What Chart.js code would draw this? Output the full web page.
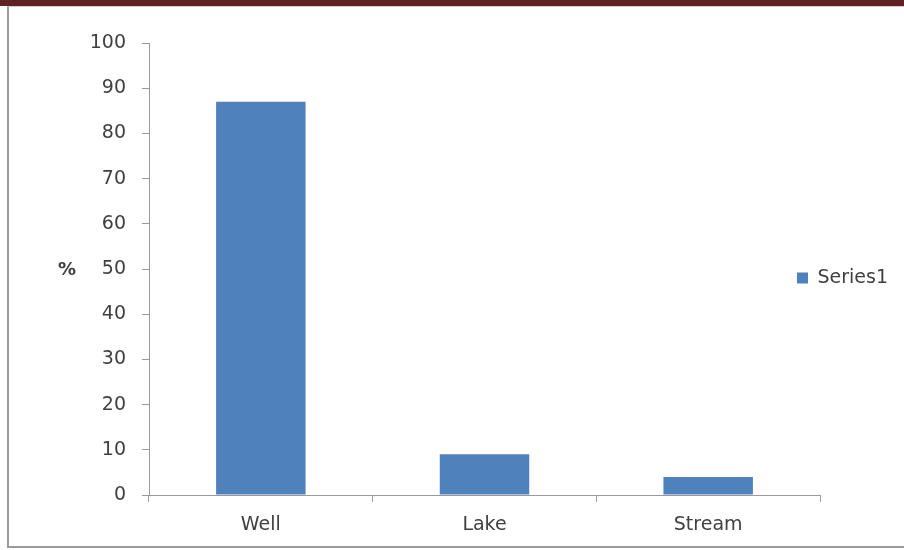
<!DOCTYPE html>
<html>
<head>
<meta charset="utf-8">
<script src="https://cdn.jsdelivr.net/npm/chart.js@4/dist/chart.umd.min.js"></script>
<style>
  html, body { margin: 0; padding: 0; background: #fff; }
  body { width: 904px; height: 550px; position: relative; overflow: hidden; }
  #band { position: absolute; left: 0; top: 0; width: 904px; height: 6px; background: #5f2123; }
  #frame { position: absolute; left: 7px; top: 6px; width: 930px; height: 539px;
           border-left: 2px solid #9a9a9a; border-top: 1px solid #cfcfcf; border-bottom: 2px solid #9a9a9a; }
  #wrap { position: absolute; left: 0; top: 0; width: 904px; height: 550px; }
</style>
</head>
<body>
<div id="band"></div>
<div id="frame"></div>
<div id="wrap"><canvas id="c" width="904" height="550"></canvas></div>
<script>
// Water source shares, in percent
const categories = ['Well', 'Lake', 'Stream'];
const series1 = [87, 9, 4];
const yTickValues = [0, 10, 20, 30, 40, 50, 60, 70, 80, 90, 100];
const seriesName = 'Series1';
const axisUnit = '%';

const textColor = '#404040';
const axisColor = '#9a9a9a';
const barColor = '#4f81bd';
const labelFont = { family: 'DejaVu Sans', size: 19 };

// Legend sits just inside the right end of the plot, as in spreadsheet charts
const legendInset = {
  id: 'legendInset',
  afterLayout(chart) {
    const lg = chart.legend;
    const dx = chart.chartArea.right - 23 - lg.options.labels.padding - lg.left;
    const dy = 9;
    lg.left += dx;
    lg.right = chart.width;
    lg.top += dy; lg.bottom += dy;
  }
};

// Unrotated unit label left of the value axis
const unitLabel = {
  id: 'unitLabel',
  afterDraw(chart) {
    const y = chart.scales.y;
    const ctx = chart.ctx;
    ctx.save();
    ctx.font = 'bold 18px "DejaVu Sans"';
    ctx.fillStyle = textColor;
    ctx.textAlign = 'center';
    ctx.textBaseline = 'middle';
    ctx.fillText(axisUnit, y.left + 67, (y.top + y.bottom) / 2 + 1);
    ctx.restore();
  }
};

new Chart(document.getElementById('c'), {
  type: 'bar',
  data: {
    labels: categories,
    datasets: [{
      label: seriesName,
      data: series1,
      backgroundColor: barColor,
      borderWidth: 0,
      categoryPercentage: 1.0,
      barPercentage: 0.4
    }]
  },
  options: {
    responsive: false,
    devicePixelRatio: 1,
    animation: false,
    layout: { padding: { top: 43, left: 0, right: 0, bottom: 0 } },
    plugins: {
      legend: {
        position: 'right',
        align: 'center',
        fullSize: false,
        maxWidth: 84,
        labels: { boxWidth: 11, boxHeight: 11, padding: 10, font: labelFont, color: textColor }
      },
      tooltip: { enabled: false }
    },
    scales: {
      x: {
        grid: { display: true, drawOnChartArea: false, drawTicks: true, tickLength: 7, color: axisColor, offset: true },
        border: { display: true, color: axisColor, width: 1 },
        ticks: { font: labelFont, color: textColor, padding: 12 },
        afterFit(s) { s.height = 55; }
      },
      y: {
        min: 0,
        max: 100,
        afterBuildTicks(s) { s.ticks = yTickValues.map(v => ({ value: v })); },
        grid: { display: true, drawOnChartArea: false, drawTicks: true, tickLength: 7, color: axisColor },
        border: { display: true, color: axisColor, width: 1 },
        ticks: { font: labelFont, color: textColor, padding: 16 },
        afterFit(s) { s.width = 149; }
      }
    }
  },
  plugins: [legendInset, unitLabel]
});
</script>
</body>
</html>
